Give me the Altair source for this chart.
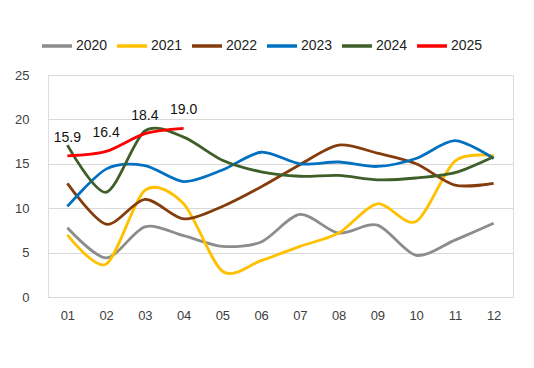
import altair as alt
import pandas as pd

months = ["01", "02", "03", "04", "05", "06", "07", "08", "09", "10", "11", "12"]
years = ["2020", "2021", "2022", "2023", "2024", "2025"]
colors = ["#8c8c8c", "#FFC000", "#843C0C", "#0070C0", "#3F5F2A", "#FF0000"]

v2020 = [7.8, 4.4, 7.9, 6.9, 5.7, 6.2, 9.3, 7.2, 8.1, 4.7, 6.4, 8.3]
v2021 = [7.0, 3.7, 12.0, 10.5, 2.9, 4.1, 5.7, 7.2, 10.5, 8.5, 15.3, 15.9]
v2022 = [12.8, 8.2, 11.0, 8.8, 10.2, 12.4, 14.9, 17.1, 16.2, 15.0, 12.6, 12.8]
v2023 = [10.2, 14.4, 14.8, 13.0, 14.3, 16.3, 15.0, 15.2, 14.7, 15.6, 17.6, 15.6]
v2024 = [17.1, 11.8, 18.7, 18.0, 15.4, 14.1, 13.6, 13.7, 13.2, 13.4, 14.0, 15.8]
v2025 = [15.9, 16.4, 18.4, 19.0]

series = [v2020, v2021, v2022, v2023, v2024, v2025]
rows = []
for y, vals in zip(years, series):
    for m, v in zip(months, vals):
        rows.append({"month": m, "year": y, "value": v})
df = pd.DataFrame(rows)
df25 = df[df["year"] == "2025"]

x = alt.X("month:O", scale=alt.Scale(type="point", padding=0.5, domain=months),
          axis=alt.Axis(title=None, labelAngle=0, domain=True, domainColor="#d9d9d9",
                        ticks=False, labelPadding=12, labelFontSize=13,
                        labelColor="#404040", labelFont="Liberation Sans"))
y = alt.Y("value:Q", scale=alt.Scale(domain=[0, 25]),
          axis=alt.Axis(title=None, values=[0, 5, 10, 15, 20, 25], grid=True,
                        gridColor="#d9d9d9", domain=False, ticks=False, labelPadding=19,
                        labelFontSize=13, labelColor="#404040", labelFont="Liberation Sans"))

lines = alt.Chart(df).mark_line(interpolate="cardinal", tension=0.15, strokeWidth=2.8).encode(
    x=x, y=y,
    color=alt.Color("year:N", scale=alt.Scale(domain=years, range=colors),
                    legend=alt.Legend(title=None, orient="none", direction="horizontal",
                                      legendX=-8, legendY=-46, symbolType="stroke",
                                      symbolSize=900, symbolStrokeWidth=3.5,
                                      labelFontSize=14, labelFont="Liberation Sans",
                                      labelColor="#222222", columnPadding=2,
                                      labelOffset=2)),
    order=alt.Order("month:O"),
)

labels = alt.Chart(df25).mark_text(dy=-18, fontSize=14, font="Liberation Sans",
                                   color="#111111").encode(
    x=alt.X("month:O", scale=alt.Scale(type="point", padding=0.5, domain=months)),
    y=alt.Y("value:Q", scale=alt.Scale(domain=[0, 25])),
    text=alt.Text("value:Q", format=".1f"),
)

chart = alt.layer(lines, labels).properties(
    width=465, height=222, padding={"left": 40, "top": 67, "right": 13, "bottom": 55},
    autosize=alt.AutoSizeParams(type="none"),
).configure_view(stroke=None).configure(background="white")

chart.save("out.html", embed_options={"renderer": "svg", "actions": False})
